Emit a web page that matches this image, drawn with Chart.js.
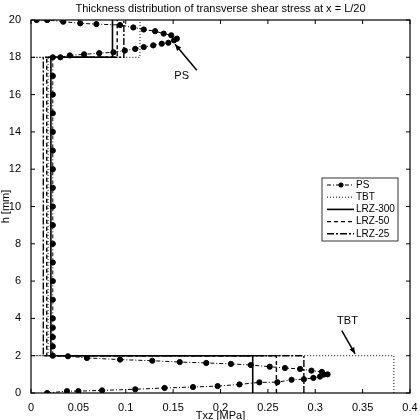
<!DOCTYPE html>
<html><head><meta charset="utf-8">
<script src="https://cdn.jsdelivr.net/npm/chart.js@4"></script>
<style>html,body{margin:0;padding:0;background:#fff}#w{width:420px;height:420px}</style>
</head><body><div id="w"><canvas id="c"></canvas></div>
<script>
const xTicks=[0,0.05,0.1,0.15,0.2,0.25,0.3,0.35,0.4];
const yTicks=[0,2,4,6,8,10,12,14,16,18,20];
const psX=[0.017,0.038,0.050,0.075,0.110,0.141,0.171,0.197,0.220,0.241,0.260,0.275,0.288,0.298,0.305,0.309,0.313,0.307,0.296,0.284,0.268,0.252,0.232,0.211,0.185,0.157,0.128,0.094,0.059,0.039,0.023,
 0.023,0.023,0.023,0.023,0.023,0.023,0.023,0.023,0.023,0.023,0.023,0.023,0.023,0.023,0.023,0.023,0.023,0.023,
 0.031,0.041,0.056,0.072,0.087,0.099,0.110,0.119,0.129,0.138,0.145,0.151,0.154,0.148,0.140,0.131,0.119,0.108,0.094,0.069,0.052,0.034,0.017,0.006];
const psH=[0,0.1,0.1,0.14,0.2,0.27,0.32,0.37,0.46,0.57,0.58,0.71,0.74,0.81,0.88,0.99,1.0,1.13,1.2,1.29,1.34,1.41,1.5,1.56,1.61,1.66,1.73,1.79,1.88,1.97,2.0,
 2.5,3,3.5,4,5,6,7,8,9,10,11,12,13,14,15,16,17,18,
 18.0,18.1,18.16,18.22,18.27,18.36,18.45,18.55,18.64,18.73,18.78,18.91,19.0,19.18,19.27,19.4,19.49,19.6,19.73,19.78,19.82,19.91,20,20];
const tbtX=[0.383,0.383,0,0.018,0.018,0,0.115,0.115];
const tbtH=[0,2,2,2,18,18,18,20];
const lrz300X=[0.234,0.234,0.021,0.021,0.086,0.086];
const lrz300H=[0,2,2,18,18,20];
const lrz50X=[0.259,0.259,0.0166,0.0166,0.091,0.091];
const lrz50H=[0,2,2,18,18,20];
const lrz25X=[0.288,0.288,0.013,0.013,0.098,0.098];
const lrz25H=[0,2,2,18,18,20];
const pts=(xs,hs)=>xs.map((x,i)=>({x:x,y:hs[i]}));
const F='Liberation Sans, Arial, sans-serif';
const styles=[
 {label:'PS',dash:[4,2,1,2],w:1,pt:true},
 {label:'TBT',dash:[1,2],w:1,pt:false},
 {label:'LRZ-300',dash:[],w:1.6,pt:false},
 {label:'LRZ-50',dash:[4,3],w:1.4,pt:false},
 {label:'LRZ-25',dash:[7,2,2,2],w:1.4,pt:false}];
const ds=[pts(psX,psH),pts(tbtX,tbtH),pts(lrz300X,lrz300H),pts(lrz50X,lrz50H),pts(lrz25X,lrz25H)].map((d,i)=>({
 label:styles[i].label,data:d,showLine:true,borderColor:'#000',backgroundColor:'#000',borderWidth:styles[i].w,
 borderDash:styles[i].dash,pointRadius:styles[i].pt?2.6:0,pointHoverRadius:0,tension:0}));
const deco={id:'deco',afterDatasetsDraw(ch){
 const c=ch.ctx,a=ch.chartArea,xs=ch.scales.x,ys=ch.scales.y;
 c.save();c.strokeStyle='#000';c.lineWidth=1.2;c.setLineDash([]);c.strokeRect(a.left,a.top,a.right-a.left,a.bottom-a.top);
 c.lineWidth=1;
 xTicks.forEach(t=>{const p=xs.getPixelForValue(t);c.beginPath();c.moveTo(p,a.bottom);c.lineTo(p,a.bottom-4);c.moveTo(p,a.top);c.lineTo(p,a.top+4);c.stroke();});
 yTicks.forEach(t=>{const p=ys.getPixelForValue(t);c.beginPath();c.moveTo(a.left,p);c.lineTo(a.left+4,p);c.moveTo(a.right,p);c.lineTo(a.right-4,p);c.stroke();});
 c.fillStyle='#000';c.font='11px '+F;c.textAlign='center';
 c.fillText('Thickness distribution of transverse shear stress at x = L/20',(a.left+a.right)/2,12);
 c.fillText('Txz [MPa]',(a.left+a.right)/2,419);
 c.save();c.translate(9,(a.top+a.bottom)/2);c.rotate(-Math.PI/2);c.fillText('h [mm]',0,0);c.restore();
 const arrow=(x1,y1,x2,y2)=>{c.beginPath();c.moveTo(x1,y1);c.lineTo(x2,y2);c.stroke();const an=Math.atan2(y2-y1,x2-x1);
  c.beginPath();c.moveTo(x2,y2);c.lineTo(x2-7*Math.cos(an-0.4),y2-7*Math.sin(an-0.4));c.lineTo(x2-7*Math.cos(an+0.4),y2-7*Math.sin(an+0.4));c.closePath();c.fill();};
 c.lineWidth=1.5;
 c.fillText('PS',xs.getPixelForValue(0.159),ys.getPixelForValue(16.85));
 arrow(xs.getPixelForValue(0.175),ys.getPixelForValue(17.3),xs.getPixelForValue(0.152),ys.getPixelForValue(18.7));
 c.fillText('TBT',xs.getPixelForValue(0.334),ys.getPixelForValue(3.7));
 arrow(xs.getPixelForValue(0.328),ys.getPixelForValue(3.35),xs.getPixelForValue(0.342),ys.getPixelForValue(2.1));
 const lx=322,ly=178,lw=76,lh=63;c.lineWidth=0.8;c.fillStyle='#fff';c.fillRect(lx,ly,lw,lh);c.strokeRect(lx,ly,lw,lh);
 c.font='10px '+F;c.textAlign='left';c.textBaseline='middle';
 styles.forEach((s,i)=>{const y=ly+7+i*12.2;c.strokeStyle='#000';c.lineWidth=s.w;c.setLineDash(s.dash);c.beginPath();c.moveTo(lx+5,y);c.lineTo(lx+32,y);c.stroke();
  c.setLineDash([]);if(s.pt){c.fillStyle='#000';c.beginPath();c.arc(lx+19,y,2.5,0,7);c.fill();}
  c.fillStyle='#000';c.fillText(s.label,lx+34,y);});
 c.restore();}};
new Chart(document.getElementById('c'),{type:'scatter',data:{datasets:ds},
 options:{responsive:true,maintainAspectRatio:false,animation:false,
  layout:{padding:{top:20,right:10,bottom:0,left:0}},
  plugins:{legend:{display:false},tooltip:{enabled:false}},
  scales:{
   x:{type:'linear',min:0,max:0.4,afterBuildTicks:s=>{s.ticks=xTicks.map(v=>({value:v}));},grid:{display:false},border:{display:false},
      ticks:{color:'#000',font:{size:11,family:F},padding:0,maxRotation:0,callback:v=>String(+v.toFixed(2))},afterFit:s=>{s.height=27;}},
   y:{type:'linear',min:0,max:20,afterBuildTicks:s=>{s.ticks=yTicks.map(v=>({value:v}));},grid:{display:false},border:{display:false},
      ticks:{color:'#000',font:{size:11,family:F},padding:2},afterFit:s=>{s.width=31;}}}},
 plugins:[deco]});
</script></body></html>
